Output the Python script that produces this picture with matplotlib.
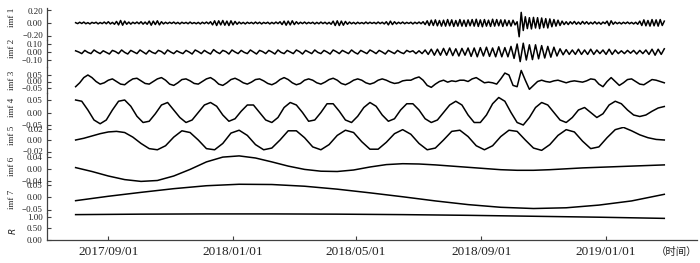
import matplotlib
matplotlib.use('Agg')
import matplotlib.pyplot as plt
import matplotlib.ticker as mticker
import pandas as pd

plt.rcParams['font.family'] = ['Liberation Serif', 'Noto Sans CJK SC', 'DejaVu Sans']

START = '2017-07-31'

# imf1: every 2 days
imf1 = [
    0.005, -0.01, 0.012, -0.008, 0.015, -0.012, 0.006, -0.015, 0.01, -0.005, 0.012, -0.014, 0.008, -0.01, 0.015,
    -0.012, 0.02, -0.015, 0.01, -0.02, 0.025, -0.03, 0.04, -0.035, 0.03, -0.02, 0.015, -0.018, 0.012, -0.01,
    0.015, -0.012, 0.02, -0.018, 0.015, -0.02, 0.03, -0.035, 0.03, -0.025, 0.035, -0.03, 0.02, -0.015, 0.012,
    -0.01, 0.012, -0.008, 0.015, -0.012, 0.01, -0.015, 0.012, -0.008, 0.01, -0.012, 0.015, -0.01, 0.008, -0.012,
    0.01, -0.015, 0.012, -0.01, 0.015, -0.012, 0.02, -0.03, 0.035, -0.04, 0.035, -0.03, 0.04, -0.035, 0.03,
    -0.04, 0.035, -0.03, 0.025, -0.02, 0.015, -0.012, 0.01, -0.015, 0.012, -0.008, 0.01, -0.012, 0.015, -0.01,
    0.012, -0.015, 0.01, -0.008, 0.012, -0.015, 0.01, -0.012, 0.015, -0.01, 0.02, -0.025, 0.03, -0.035, 0.03,
    -0.03, 0.035, -0.025, 0.02, -0.015, 0.012, -0.01, 0.015, -0.012, 0.01, -0.008, 0.012, -0.015, 0.01, -0.012,
    0.015, -0.01, 0.012, -0.015, 0.01, -0.02, 0.03, -0.04, 0.035, -0.04, 0.03, -0.035, 0.025, -0.02, 0.015,
    -0.012, 0.01, -0.015, 0.012, -0.01, 0.008, -0.012, 0.015, -0.01, 0.012, -0.008, 0.01, -0.012, 0.015, -0.01,
    0.012, -0.015, 0.02, -0.03, 0.03, -0.025, 0.02, -0.015, 0.012, -0.01, 0.015, -0.012, 0.01, -0.008, 0.012,
    -0.015, 0.012, -0.01, 0.015, -0.012, 0.02, -0.025, 0.035, -0.04, 0.045, -0.04, 0.05, -0.045, 0.04, -0.05,
    0.045, -0.05, 0.055, -0.045, 0.05, -0.055, 0.04, -0.05, 0.055, -0.05, 0.045, -0.055, 0.05, -0.045, 0.055,
    -0.05, 0.06, -0.055, 0.05, -0.06, 0.055, -0.05, 0.045, -0.055, 0.06, -0.05, 0.055, -0.045, 0.05, -0.055,
    0.05, -0.045, 0.04, -0.05, 0.045, -0.03, 0.02, -0.22, 0.17, -0.12, 0.1, -0.09, 0.085, -0.095, 0.09,
    -0.08, 0.085, -0.09, 0.08, -0.075, 0.07, -0.08, 0.065, -0.06, 0.055, -0.05, 0.045, -0.04, 0.03, -0.025,
    0.02, -0.025, 0.02, -0.015, 0.025, -0.02, 0.015, -0.02, 0.025, -0.015, 0.02, -0.018, 0.012, -0.015, 0.02,
    -0.015, 0.012, -0.02, 0.015, -0.01, 0.03, -0.04, 0.035, -0.02, 0.015, -0.012, 0.01, -0.015, 0.012, -0.01,
    0.015, -0.012, 0.01, -0.015, 0.012, -0.02, 0.03, -0.04, 0.05, -0.045, 0.04, -0.05, 0.055, -0.045, 0.05,
    -0.05, 0.055, -0.04, 0.03,
]

# imf2: every 3 days
imf2 = [
    0.015, 0.0, -0.02, 0.02, -0.005, -0.02, 0.025, 0.0, -0.02, 0.015,
    -0.005, -0.025, 0.02, 0.005, -0.02, 0.025, -0.005, -0.025, 0.02, 0.0,
    -0.02, 0.025, 0.0, -0.025, 0.02, -0.005, -0.02, 0.02, 0.005, -0.025,
    0.025, 0.0, -0.02, 0.015, -0.005, -0.02, 0.02, 0.0, -0.025, 0.025,
    0.005, -0.02, 0.02, -0.005, -0.025, 0.03, 0.0, -0.02, 0.02, 0.005,
    -0.025, 0.025, 0.0, -0.02, 0.02, -0.005, -0.02, 0.025, 0.0, -0.025,
    0.02, 0.005, -0.02, 0.02, 0.0, -0.025, 0.025, -0.005, -0.02, 0.02,
    0.0, -0.02, 0.025, 0.005, -0.025, 0.02, 0.0, -0.02, 0.025, -0.005,
    -0.02, 0.02, 0.0, -0.025, 0.025, 0.005, -0.02, 0.02, 0.0, -0.02,
    0.025, -0.005, -0.025, 0.02, 0.0, -0.02, 0.025, 0.005, -0.02, 0.02,
    0.0, -0.025, 0.02, 0.0, -0.02, 0.02, -0.005, -0.02, 0.02, 0.0,
    0.015, -0.02, 0.015, -0.02, 0.025, -0.03, 0.035, -0.04, 0.035, -0.04,
    0.045, -0.04, 0.05, -0.045, 0.04, -0.05, 0.045, -0.04, 0.05, -0.055,
    0.05, -0.06, 0.055, -0.05, 0.06, -0.055, 0.05, -0.06, 0.065, -0.06,
    0.055, -0.06, 0.07, -0.08, 0.1, -0.12, 0.11, -0.1, 0.09, -0.095,
    0.09, -0.085, 0.08, -0.075, 0.07, -0.065, 0.06, -0.05, 0.04, -0.035,
    0.03, -0.03, 0.025, -0.03, 0.035, -0.03, 0.025, -0.03, 0.035, -0.03,
    0.025, -0.02, 0.025, -0.03, 0.035, -0.03, 0.025, -0.02, 0.015, -0.02,
    0.02, -0.015, 0.02, -0.025, 0.02, -0.02, 0.025, -0.03, 0.035, -0.04,
    0.035, -0.03, 0.04,
]

# imf3: every 4 days
imf3 = [
    -0.04, -0.01, 0.03, 0.05, 0.03, 0.0, -0.02, -0.01, 0.01, 0.02,
    0.0, -0.02, -0.025, 0.0, 0.02, 0.025, 0.005, -0.015, -0.02, 0.0,
    0.02, 0.03, 0.01, -0.02, -0.03, -0.01, 0.015, 0.02, 0.005, -0.015,
    -0.02, 0.0, 0.02, 0.03, 0.01, -0.02, -0.03, -0.01, 0.015, 0.025,
    0.01, -0.01, -0.02, -0.005, 0.015, 0.02, 0.005, -0.015, -0.025, -0.01,
    0.015, 0.03, 0.015, -0.01, -0.025, -0.015, 0.01, 0.02, 0.01, -0.01,
    -0.02, -0.005, 0.015, 0.025, 0.01, -0.015, -0.025, -0.01, 0.01, 0.02,
    0.01, -0.01, -0.02, -0.01, 0.01, 0.02, 0.01, -0.005, -0.015, -0.01,
    0.005, 0.01, 0.01, 0.025, 0.035, 0.01, -0.03, -0.045, -0.02, 0.0,
    0.01, -0.005, 0.005, 0.0, 0.01, 0.01, 0.0, 0.02, 0.03, 0.01,
    -0.01, -0.005, -0.01, -0.02, 0.02, 0.065, 0.05, -0.03, -0.04, 0.085,
    0.01, -0.06, -0.03, 0.0, 0.01, 0.0, -0.005, 0.005, 0.01, 0.0,
    -0.01, 0.0, 0.005, 0.0, -0.005, 0.005, 0.02, 0.015, -0.02, -0.04,
    0.0, 0.03, 0.0, -0.03, -0.01, 0.015, 0.02, 0.0, -0.02, -0.025,
    -0.005, 0.015, 0.01, 0.0, -0.01,
]

# imf4: every 6 days
imf4 = [
    0.05, 0.045, 0.01, -0.03, -0.045, -0.03, 0.01, 0.045, 0.05, 0.025,
    -0.015, -0.04, -0.035, -0.005, 0.03, 0.04, 0.01, -0.02, -0.04, -0.03,
    0.0, 0.03, 0.04, 0.025, -0.01, -0.035, -0.025, 0.005, 0.03, 0.03,
    0.0, -0.03, -0.04, -0.02, 0.02, 0.04, 0.03, 0.0, -0.035, -0.03,
    0.0, 0.035, 0.035, 0.005, -0.03, -0.04, -0.015, 0.02, 0.04, 0.025,
    -0.01, -0.035, -0.025, 0.01, 0.035, 0.035, 0.01, -0.025, -0.04, -0.03,
    0.0, 0.03, 0.045, 0.03, -0.01, -0.04, -0.04, -0.01, 0.035, 0.06,
    0.045, 0.0, -0.04, -0.05, -0.02, 0.02, 0.04, 0.03, 0.0, -0.03,
    -0.04, -0.02, 0.01, 0.02, 0.0, -0.02, -0.005, 0.03, 0.045, 0.035,
    0.01, -0.01, -0.016, -0.01, 0.005, 0.018, 0.024,
]

# imf5: every 8 days
imf5 = [
    0.0, 0.003, 0.007, 0.011, 0.014, 0.015, 0.013, 0.005, -0.006, -0.015,
    -0.017, -0.01, 0.005, 0.016, 0.013, 0.0, -0.015, -0.017, -0.006, 0.012,
    0.017, 0.008, -0.008, -0.017, -0.014, 0.0, 0.016, 0.016, 0.004, -0.012,
    -0.017, -0.008, 0.008, 0.017, 0.013, -0.003, -0.016, -0.016, -0.004, 0.011,
    0.018, 0.01, -0.006, -0.017, -0.014, 0.0, 0.015, 0.017, 0.006, -0.01,
    -0.017, -0.01, 0.006, 0.017, 0.015, 0.0, -0.014, -0.018, -0.008, 0.008,
    0.018, 0.014, -0.002, -0.015, -0.012, 0.004, 0.018, 0.022, 0.016, 0.009,
    0.004, 0.001, 0.0,
]

# imf6: every 16 days
imf6 = [
    0.003, -0.01, -0.025, -0.037, -0.043, -0.04, -0.025, -0.003, 0.022, 0.038,
    0.042, 0.035, 0.022, 0.008, -0.003, -0.009, -0.01, -0.005, 0.005, 0.013,
    0.016, 0.015, 0.012, 0.008, 0.004, 0.0, -0.004, -0.006, -0.006, -0.004,
    -0.001, 0.002, 0.004, 0.006, 0.008, 0.01, 0.012,
]

# imf7: every 32 days
imf7 = [
    -0.014, 0.004, 0.02, 0.035, 0.047, 0.053, 0.052, 0.045, 0.033, 0.018,
    0.002, -0.015, -0.03, -0.041, -0.046, -0.043, -0.032, -0.015, 0.012,
]

# residual R: every 64 days
res = [1.08, 1.1, 1.11, 1.11, 1.1, 1.08, 1.05, 1.01, 0.97, 0.92]

series = [imf1, imf2, imf3, imf4, imf5, imf6, imf7, res]
steps_days = [2, 3, 4, 6, 8, 16, 32, 64]
names = ['imf 1', 'imf 2', 'imf 3', 'imf 4', 'imf 5', 'imf 6', 'imf 7', '$R$']
yticks = [
    [0.20, 0.00, -0.20],
    [0.10, 0.00, -0.10],
    [0.05, 0.00, -0.05],
    [0.05, 0.00, -0.05],
    [0.02, 0.00, -0.02],
    [0.04, 0.00, -0.04],
    [0.05, 0.00, -0.05],
    [1.00, 0.50, 0.00],
]
xtick_labels = ['2017/09/01', '2018/01/01', '2018/05/01', '2018/09/01', '2019/01/01']

# layout in pixels
W, H = 700, 263
X0, X1 = 47, 697
panel_px = [(8, 40), (40, 67), (67, 93), (93, 127), (127, 154), (154, 183), (183, 213), (213, 240)]
tick_px = [(10.5, 35.5), (44, 60), (75, 88), (100, 125), (128.5, 151.5), (156.5, 180.5), (185, 209.5), (216.5, 240)]
label_py = [17.5, 48.5, 80, 107.5, 135, 166, 199, 231]

XMIN, XMAX = pd.Timestamp('2017-07-03'), pd.Timestamp('2019-03-31')
AX_COLOR = '#404040'

fig = plt.figure(figsize=(W / 100, H / 100), dpi=100)

n = len(series)
for i in range(n):
    top, bot = panel_px[i]
    tp0, tp1 = tick_px[i]
    tv = yticks[i]
    slope = (tv[0] - tv[-1]) / (tp1 - tp0)
    ytop = tv[0] + (tp0 - top) * slope
    ybot = tv[-1] - (bot - tp1) * slope
    ax = fig.add_axes([X0 / W, 1 - bot / H, (X1 - X0) / W, (bot - top) / H])
    ax.patch.set_alpha(0)
    dates = pd.date_range(START, periods=len(series[i]), freq=f'{steps_days[i]}D')
    ax.plot(dates, series[i], color='black', lw=1.1, solid_joinstyle='round')
    ax.set_ylim(ybot, ytop)
    ax.set_xlim(XMIN, XMAX)
    for s in ['top', 'right']:
        ax.spines[s].set_visible(False)
    ax.spines['left'].set_color(AX_COLOR)
    ax.spines['left'].set_linewidth(0.9)
    ax.set_yticks(tv)
    ax.yaxis.set_major_formatter(mticker.FixedFormatter(
        [f'{v:.2f}'.replace('-', '\u2212') for v in tv]))
    ax.tick_params(axis='y', direction='in', length=3, width=0.8, color=AX_COLOR,
                   labelsize=6.5, pad=3, labelcolor='#222222')
    if i < n - 1:
        ax.spines['bottom'].set_visible(False)
        ax.tick_params(axis='x', bottom=False, labelbottom=False)
    else:
        ax.spines['bottom'].set_color(AX_COLOR)
        ax.spines['bottom'].set_linewidth(0.9)
        xt = [pd.Timestamp(s.replace('/', '-')) for s in xtick_labels]
        ax.set_xticks(xt)
        ax.set_xticklabels(xtick_labels)
        ax.tick_params(axis='x', direction='in', length=3, width=0.8, color=AX_COLOR,
                       labelsize=9.5, pad=4, labelcolor='#222222')
    fig.text(12 / W, 1 - label_py[i] / H, names[i], rotation=90, ha='center', va='center',
             fontsize=6.5, color='#222222')

fig.text(677 / W, 1 - 252 / H, '（时间）', ha='center', va='center', fontsize=7.5,
         color='#222222', family=['Noto Sans CJK SC', 'DejaVu Sans'])

fig.savefig('out.png', dpi=100)
